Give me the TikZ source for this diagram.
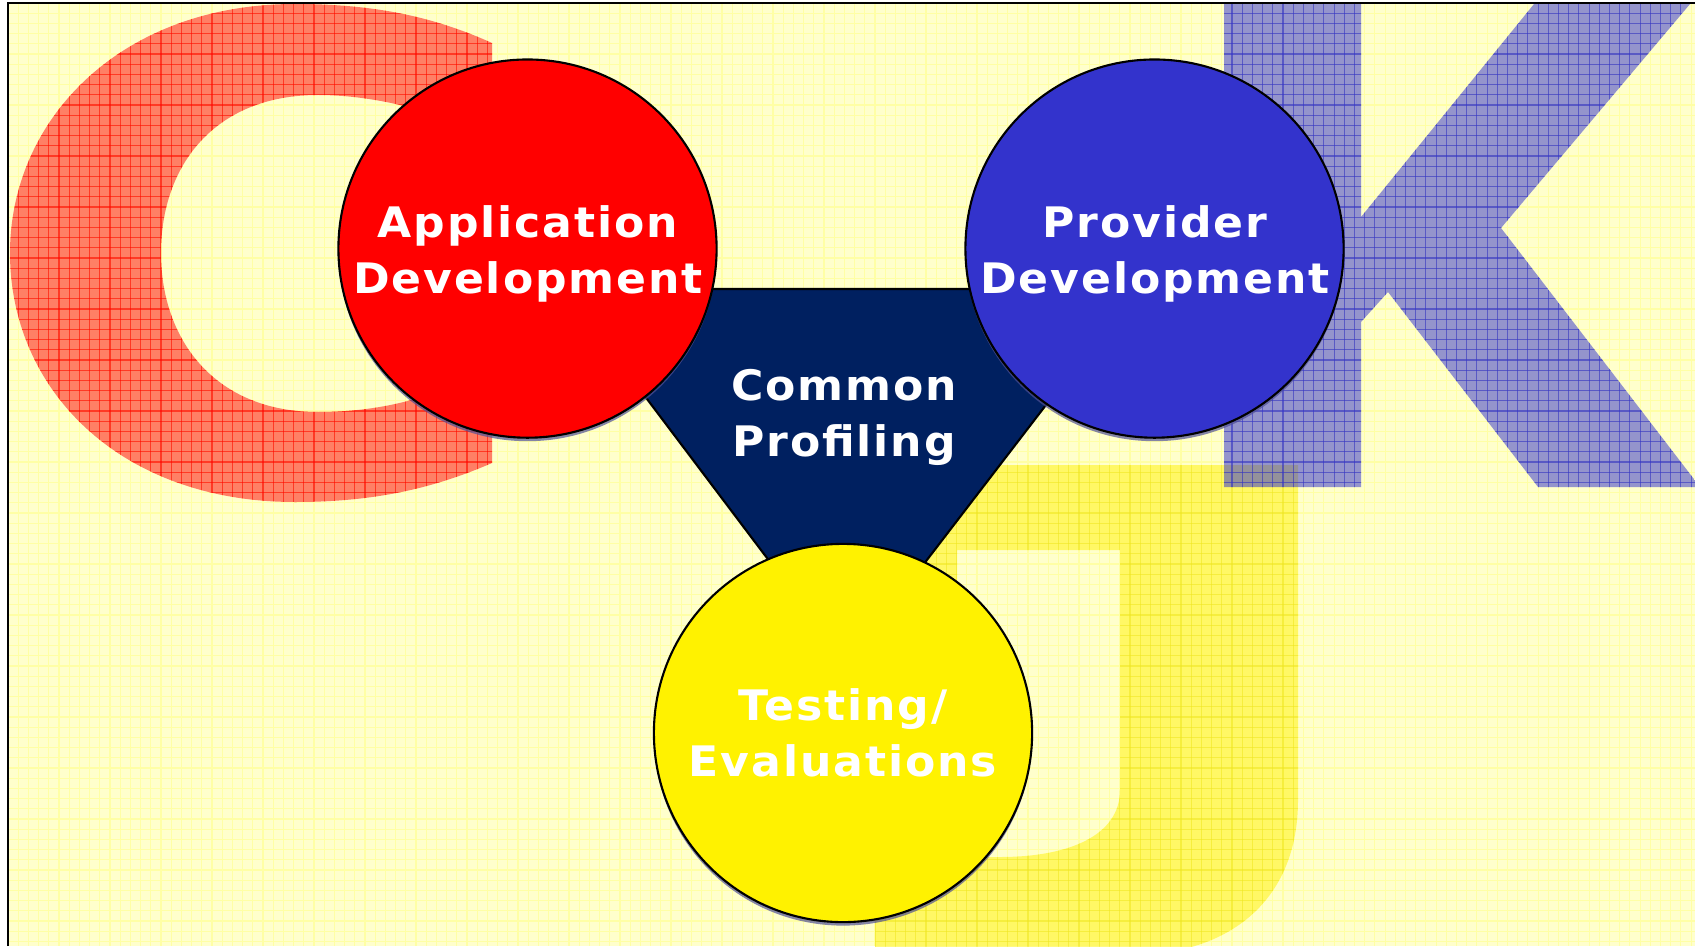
\documentclass[tikz,border=0pt]{standalone}
\usepackage{fontspec}
\usetikzlibrary{shadows}
\newfontfamily\labelfont[FakeStretch=1.05, LetterSpace=4.5]{DejaVu Sans}
\definecolor{paper}{RGB}{255,255,204}
\definecolor{paperline}{RGB}{255,255,165}
\definecolor{provblue}{RGB}{51,51,204}
\definecolor{profnavy}{RGB}{0,32,96}
\definecolor{shade}{RGB}{80,80,150}

\begin{document}
\begin{tikzpicture}[
		x=0.01cm, y=-0.01cm,
		line width=0.3pt,
		every node/.style={text=white, align=center, font=\labelfont\bfseries\fontsize{11.95}{15.93}\selectfont},
		area/.style={circle, draw=black, line width=0.6pt, minimum size=3.78cm, inner sep=0pt,
			drop shadow={shadow xshift=0pt, shadow yshift=-0.035cm, fill=shade, opacity=0.7}},
		bg line/.style={paperline},
		c line/.style={red, opacity=0.55},
		k line/.style={provblue, opacity=0.6},
		j line/.style={yellow!90!black, opacity=0.35},
		frame/.style={line width=0.6pt}
		]
	
	\useasboundingbox (0,0) rectangle (1695,946);
	
	% Paper
	\fill[white] (0,0) rectangle (1695,946);
	\fill[paper] (8,3) rectangle (1695,946);
	\foreach \i in {1,...,165}{
		\draw[bg line] ({8+10.2*\i},3) -- ({8+10.2*\i},946);
	}
	\foreach \i in {1,...,92}{
		\draw[bg line] (8,{3+10.2*\i}) -- (1695,{3+10.2*\i});
	}
	
	% Letter C
	\begin{scope}
		\clip (492,43) .. controls (430,15) and (370,4) .. (295,4)
			.. controls (120,4) and (10,120) .. (10,253)
			.. controls (10,390) and (120,502) .. (295,502)
			.. controls (370,502) and (430,490) .. (492,463) -- (492,360)
			.. controls (450,395) and (385,412) .. (318,412)
			.. controls (215,412) and (161,340) .. (161,253)
			.. controls (161,165) and (215,95) .. (318,95)
			.. controls (380,95) and (450,115) .. (492,140) -- cycle;
		\fill[red, fill opacity=0.5] (0,0) rectangle (560,520);
		\foreach \i in {0,...,54}{
			\draw[c line] ({8+10.2*\i},0) -- ({8+10.2*\i},520);
		}
		\foreach \i in {0,...,50}{
			\draw[c line] (0,{3+10.2*\i}) -- (560,{3+10.2*\i});
		}
	\end{scope}
	
	% Letter J
	\begin{scope}[even odd rule]
		\clip (875,465) -- (1298,465) -- (1298,800)
			.. controls (1298,900) and (1230,955) .. (1130,955) -- (875,955) -- cycle
			(957,550) -- (1120,550) -- (1120,790)
			.. controls (1120,835) and (1070,857) .. (1000,857) -- (957,857) -- cycle;
		\fill[yellow, fill opacity=0.5] (860,450) rectangle (1310,960);
		\foreach \i in {84,...,127}{
			\draw[j line] ({8+10.2*\i},450) -- ({8+10.2*\i},960);
		}
		\foreach \i in {43,...,93}{
			\draw[j line] (860,{3+10.2*\i}) -- (1310,{3+10.2*\i});
		}
	\end{scope}
	
	% Letter K
	\begin{scope}
		\clip (1224,4) -- (1361,4) -- (1361,217) -- (1534,4) -- (1690,4) -- (1501,228)
			-- (1700,487) -- (1538,487) -- (1388,292) -- (1361,322) -- (1361,487)
			-- (1224,487) -- cycle;
		\fill[provblue, fill opacity=0.52] (1210,0) rectangle (1700,500);
		\foreach \i in {118,...,166}{
			\draw[k line] ({8+10.2*\i},0) -- ({8+10.2*\i},500);
		}
		\foreach \i in {0,...,49}{
			\draw[k line] (1210,{3+10.2*\i}) -- (1700,{3+10.2*\i});
		}
	\end{scope}
	
	% Frame
	\draw[frame] (8,946) -- (8,3) -- (1695,3);
	
	% Common profiling
	\coordinate (tl) at (564,289);
	\coordinate (tr) at (1135,289);
	\coordinate (tb) at (847,664);
	\filldraw[fill=profnavy, draw=black, line width=0.6pt] (tl) -- (tr) -- (tb) -- cycle;
	\node (prof) at (844,417) {Common\\Profiling};
	
	% Circles
	\node[area, fill=red] (app) at (527.5,248.6) {};
	\node[area, fill=provblue] (prov) at (1154.5,248.6) {};
	\node[area, fill=yellow] (test) at (843,733) {};
	
	% Circle texts
	\node (app text) at (528,254) {Application\\Development};
	\node (prov text) at (1155,254) {Provider\\Development};
	\node (test text) at (843,733) {Testing/\\Evaluations};
	
\end{tikzpicture}
\end{document}
